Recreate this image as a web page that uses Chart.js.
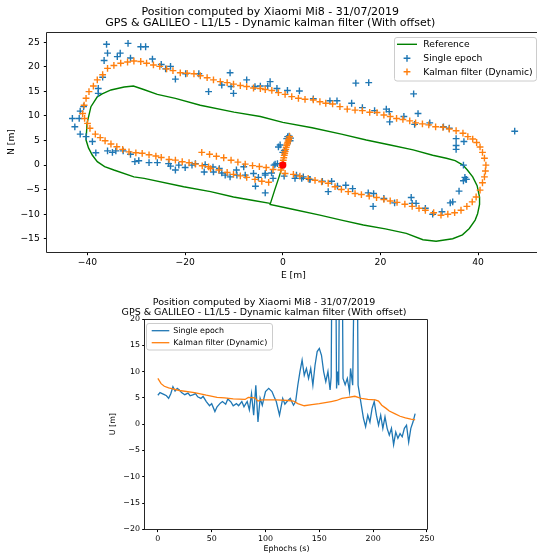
<!DOCTYPE html>
<html><head><meta charset="utf-8">
<script src="https://cdn.jsdelivr.net/npm/chart.js@4"></script>
<style>
html,body{margin:0;padding:0;background:#fff;overflow:hidden;width:537px;height:554px;}
#c1{position:absolute;left:0;top:0;}
#c2{position:absolute;left:0;top:285px;}
</style></head><body>
<canvas id="c1" width="545" height="285"></canvas>
<canvas id="c2" width="537" height="269"></canvas>
<script>
// ---------- text ----------
const titleLines = ['Position computed by Xiaomi Mi8 - 31/07/2019', 'GPS & GALILEO - L1/L5 - Dynamic kalman filter (With offset)'];
const seriesNames = ['Reference', 'Single epoch', 'Kalman filter (Dynamic)'];

// ---------- top chart (E/N) ----------
const refE = [0, -0.8, -1.7, -2.6, 2, 7.6, 12, 16.5, 21, 25.3, 28.7, 31.4, 34.8, 36.8, 38.2, 39.4, 39.9, 40.3, 40.3, 39.8, 38.9, 37.8, 36.9, 35.3, 33.5, 30.7, 26.7, 22, 17.1, 12, 6, 0, -4.6, -10, -16.9, -22, -25.7, -28.5, -30.6, -32.5, -35.2, -37, -38, -39.3, -40.1, -40.3, -39.8, -39.0, -38, -36.5, -34.6, -30.5, -28.4, -20.3, -14.8, -10.1, -6, -2.6];
const refN = [0, -2.5, -5.2, -8.0, -9.0, -10.2, -11.2, -12.2, -13.0, -13.9, -15.2, -15.5, -15.0, -14.2, -12.9, -11.2, -9.9, -8, -6.5, -4.2, -2.4, -1.0, 0, 0.9, 1.4, 2.0, 3.1, 4.1, 5.1, 6.3, 7.6, 8.7, 9.9, 10.8, 12.2, 13.6, 14.4, 15.4, 16.1, 15.9, 15.3, 14.5, 13.9, 11.9, 8.5, 5.1, 3.5, 2.0, 0.7, -0.3, -1.0, -2.4, -2.7, -4.4, -5.4, -6.5, -7.2, -7.8];

const singleE = [-43.1, -41.7, -42.6, -41.5, -40.3, -39.0, -41.5, -40.8, -37.8, -37.8, -36.9, -36.6, -36.1, -35.9, -33.9, -33.3, -31.7, -31.2, -29.1, -28.1, -26.7, -24.9, -24.0, -23.0, -22.0, -19.9, -17.2, -15.2, -12.5, -10.8, -10.6, -10.1, -7.4, -5.7, -4.6,
  -3.1, -2.6, -1.2, 0.95, 3.4, 6.25, 9.65, 11.1, 14.1, 14.96, 17.6, 16.3, 18.8, 21.2, 21.8, 21.9, 24.8, 26.8, 27.7, 27.0, 30.1, 32.9, 34.1, 35.5, 37.1, 35.5, 35.5, 37.0, 37.3, 37.6, 37.0, 36.1, 47.5,
  0.27, 2.5, 3.87, 5.6, 8.1, 10.0, 9.3, 11.2, 12.9, 14.3, 17.5, 18.6, 18.5, 20.7, 22.9, 26.3, 26.5, 27.3, 29.2, 30.7, 32.6, 34.3, 34.8, 37.5, -1.57, -3.6, -3.6,
  -38.3, -35.9, -34.9, -34.2, -32.7, -31.2, -30.3, -29.5, -27.4, -25.7, -23.4, -23.0, -22.0, -21.3, -20.0, -18.6, -17.9, -15.9, -16.1, -14.3, -14.2, -13.0, -12.5, -11.8, -10.8, -9.5, -9.4, -8.0, -7.7, -6.0, -5.6, -5.0, -3.6, -2.3, -1.8, -2.0, -1.1,
  -0.9, -0.55, 0.8, 1.3, 1.5, 0.3, 1.0, 1.6, 0.0, 2.8, 4.2, 5.4];
const singleN = [9.5, 9.5, 7.8, 6.3, 5.8, 4.8, 11.0, 11.9, 15.6, 14.6, 17.9, 21.3, 24.6, 22.8, 22.1, 22.8, 24.8, 21.8, 24.1, 24.1, 21.6, 20.5, 19.6, 20.1, 17.5, 18.6, 18.6, 14.96, 16.3, 18.8, 16.0, 14.6, 17.35, 16.0, 16.1,
  16.1, 17.0, 15.6, 15.2, 15.1, 13.5, 13.1, 13.1, 12.6, 16.7, 16.8, 11.7, 11.1, 11.4, 10.9, 8.8, 9.9, 14.5, 10.5, 8.3, 8.6, 7.8, 7.5, 5.4, 4.8, 4.0, 3.2, 0, -2.5, -2.9, -3.2, -5.3, 6.9,
  -2.25, -2.7, -2.7, -2.9, -3.3, -3.3, -5.4, -4.3, -4.1, -4.8, -5.65, -5.8, -8.4, -6.8, -7.7, -6.6, -7.8, -7.8, -8.8, -10.0, -9.5, -7.7, -7.5, -2.9, 0.2, -1.7, -5.65,
  2.5, 2.9, 2.6, 2.9, 2.9, 2.2, 0.7, 0.9, 0.5, 0.5, 0.3, -0.2, -1.0, 0, -0.5, 0, 0.3, 0.1, -1.4, -0.4, -1.4, -0.7, -1.6, -2.04, -2.4, -1.0, -2.04, -0.35, -2.04, -1.7, -4.3, -2.5, -2.04, -1.6, 0, -2.7, 0.3,
  3.7, 4.1, 5.4, 5.9, 4.96, 3.0, 5.8, 5.5, 2.6, -2.04, -2.4, -2.9];

const kalmanE = [-0.4, -0.3, -0.2, 0, 0.1, 0.2, 0.3, 0.4, 0.5, 0.6, 0.7, 0.8, 0.9, 1.0, 1.1, 1.2, 1.3, 1.4,
  0.47, 2.17, 3.5, 5.2, 6.6, 7.95, 9.3, 10.7, 12.0, 13.4, 14.8, 16.1, 17.7, 19.2, 20.7, 22.0, 23.4, 25.0, 26.5, 27.9, 29.2, 30.9, 32.4, 33.8, 35.2, 36.5, 37.7, 38.8, 39.6, 40.4, 40.9, 41.3, 41.5, 41.6, 41.3, 40.9, 40.4, 39.7, 38.9, 37.9, 36.9, 35.5, 34.1, 32.8, 31.3, 29.9, 28.6, 27.2, 26.0, 24.6, 23.3, 22.0, 20.7, 19.3, 17.8, 16.3, 14.8, 13.2, 11.7, 10.2, 8.8, 7.6, 6.25, 4.55, 3.2, 1.83, 0.47, -0.9, -2.25, -3.6, -4.6, -6.0, -7.4, -8.7, -10.1, -11.4, -12.8, -14.2, -15.5, -16.9, -18.2, -19.6, -21.0, -22.5, -23.8, -25.2, -26.5, -27.9, -29.1, -30.5, -31.8, -33.2, -34.6, -35.9, -36.9, -38.0, -38.8, -39.7, -40.3, -40.7, -41.0, -40.6, -40.0, -39.5, -38.4, -37.4, -36.4, -35.2, -34.0, -32.8, -31.5, -30.1, -28.8, -27.4, -26.0, -24.9, -23.3, -22.0, -20.6, -19.2, -17.9, -16.5, -15.2, -14.8, -13.1, -11.4, -10.1, -8.7, -7.4, -5.7, -4.3, -2.9,
  -16.6, -15.0, -13.6, -12.1, -10.6, -9.2, -7.7, -6.2, -4.8, -3.4, -2.0];
const kalmanN = [-1.0, -0.5, 0, 0.5, 1.0, 1.5, 2.0, 2.4, 2.8, 3.2, 3.6, 4.0, 4.3, 4.6, 4.9, 5.2, 5.5, 5.8,
  -1.7, -1.9, -2.25, -2.7, -3.1, -3.4, -3.7, -4.4, -4.96, -5.4, -5.8, -6.0, -6.3, -6.6, -7.0, -7.3, -7.6, -7.96, -8.4, -8.8, -9.2, -9.7, -10.2, -10.0, -9.7, -9.2, -8.4, -7.5, -6.5, -5.1, -3.6, -2.4, -1.2, 0, 1.4, 2.6, 3.7, 4.6, 5.3, 5.8, 6.5, 7.0, 7.35, 7.7, 7.8, 8.2, 8.4, 8.6, 9.0, 9.3, 9.5, 9.9, 10.2, 10.7, 10.75, 11.1, 11.2, 11.4, 11.9, 12.45, 12.6, 12.9, 13.27, 13.4, 13.6, 13.94, 14.4, 14.76, 15.2, 15.4, 15.6, 15.7, 16.0, 16.2, 16.5, 16.8, 17.0, 17.35, 17.8, 18.2, 18.6, 18.7, 18.8, 19.25, 19.6, 20.1, 20.4, 20.75, 21.1, 21.2, 21.0, 20.75, 20.3, 19.7, 18.4, 17.35, 16.1, 14.96, 13.6, 12.2, 10.5, 9.5, 8.5, 7.5, 6.3, 5.6, 4.96, 4.3, 3.74, 3.2, 2.7, 2.5, 2.4, 2.1, 1.84, 1.56, 1.15, 1.02, 0.68, 0.48, 0.2, -0.14, -0.35, -0.7, -1.0, -1.5, -1.9, -2.2, -2.5, -2.9, -3.3, -3.5,
  2.6, 2.2, 1.8, 1.5, 1.0, 0.6, 0.2, -0.1, -0.3, -0.5, -0.9];

const originE = [0];
const originN = [0];
const xTicksEN = [-40, -20, 0, 20, 40];
const yTicksEN = [-15, -10, -5, 0, 5, 10, 15, 20, 25];

// ---------- bottom chart (U) ----------
const epochsSingle = [0, 2, 4, 6, 8, 10, 12, 14, 16, 18, 20, 22, 25, 28, 30, 33, 35, 37, 40, 42, 45, 48, 50, 53, 55, 58, 60, 63, 65, 68, 70, 73, 75, 78, 80, 82, 83, 85, 87, 89, 91, 93, 95, 97, 100, 103, 106, 108, 110, 113, 116, 118, 120, 123, 126, 128, 130, 132, 134, 136, 138, 140, 142, 144, 146, 148, 150, 152, 154, 156, 158, 160, 161, 162, 165, 166, 167, 168, 169, 171, 172, 174, 176, 178, 179, 181, 183, 185, 186, 187, 189, 191, 193, 195, 197, 199, 201, 203, 205, 207, 209, 211, 213, 215, 217, 219, 221, 223, 225, 227, 229, 231, 233, 235, 237, 239];
const uSingle = [5.5, 6.0, 5.8, 5.6, 5.4, 4.9, 5.8, 7.1, 6.3, 6.8, 6.5, 6.0, 5.6, 5.9, 5.4, 5.6, 5.8, 5.2, 4.9, 5.3, 4.3, 3.5, 3.9, 2.4, 3.3, 4.0, 4.3, 3.8, 4.8, 4.2, 3.5, 3.9, 3.5, 4.3, 3.3, 4.0, 4.3, 2.7, 5.8, 1.7, 7.4, 0.4, 4.9, 3.6, 6.2, 6.8, 6.2, 5.2, 4.3, 1.7, 4.9, 3.8, 4.3, 4.9, 3.6, 4.3, 7.4, 10.0, 12.2, 9.3, 10.6, 8.7, 10.6, 7.4, 11.2, 13.8, 14.4, 13.1, 10.0, 8.1, 10.0, 6.5, 9.0, 40, 40, 6.8, 10.0, 7.4, 40, 40, 8.7, 7.5, 8.7, 6.2, 10.6, 7.4, 40, 40, 7.4, 6.2, 3.6, 1.1, -0.5, 1.7, 0.4, 3.0, 4.3, 1.7, -0.2, 1.7, -0.8, 1.4, -0.8, -2.1, -0.8, -3.9, -1.5, -2.7, -1.8, -2.4, -0.8, -0.2, -3.4, -0.8, 0.4, 2.0];
const epochsKalman = [0, 3, 6, 10, 12, 20, 34, 45, 55, 62, 70, 81, 84, 90, 93, 96, 110, 121, 126, 130, 136, 143, 150, 161, 166, 171, 177, 183, 186, 189, 195, 202, 205, 208, 212, 215, 220, 225, 230, 235, 239];
const uKalman = [8.7, 7.7, 7.2, 6.9, 6.8, 6.4, 6.0, 5.5, 5.1, 5.0, 4.8, 4.7, 5.1, 5.0, 4.4, 4.6, 4.6, 4.5, 4.4, 3.9, 3.5, 3.7, 3.9, 4.3, 4.5, 4.9, 5.1, 5.3, 5.1, 4.9, 4.7, 4.6, 4.4, 3.6, 3.0, 2.5, 2.0, 1.5, 1.2, 0.95, 0.8];
const xTicksU = [0, 50, 100, 150, 200, 250];
const yTicksU = [-20, -15, -10, -5, 0, 5, 10, 15, 20];

// ---------- helpers ----------
const pts = (xs, ys) => xs.map((x, i) => ({x: x, y: ys[i]}));
const fmt = v => v < 0 ? '\u2212' + Math.abs(v) : String(v);
const FONT = 'DejaVu Sans';
const C_BLUE = '#1f77b4', C_ORANGE = '#ff7f0e', C_GREEN = '#008000', C_RED = '#ff0000';

const framePlugin = {
  id: 'frame',
  afterDatasetsDraw(chart) {
    const {ctx, chartArea: a} = chart;
    ctx.save();
    ctx.strokeStyle = '#262626';
    ctx.lineWidth = 1;
    const l = Math.round(a.left) - 0.5, t = Math.round(a.top) + 0.5;
    const r = Math.round(a.right) - 0.5, b = Math.round(a.bottom) + 0.5;
    ctx.beginPath();
    ctx.moveTo(l, t); ctx.lineTo(r, t); ctx.lineTo(r, b); ctx.lineTo(l, b); ctx.closePath();
    ctx.stroke();
    ctx.restore();
  }
};

const boxLegendPlugin = {
  id: 'boxLegend',
  afterDraw(chart, args, o) {
    if (!o || !o.items) return;
    const ctx = chart.ctx;
    ctx.save();
    const r = 2.5;
    ctx.beginPath();
    ctx.moveTo(o.x + r, o.y);
    ctx.arcTo(o.x + o.w, o.y, o.x + o.w, o.y + o.h, r);
    ctx.arcTo(o.x + o.w, o.y + o.h, o.x, o.y + o.h, r);
    ctx.arcTo(o.x, o.y + o.h, o.x, o.y, r);
    ctx.arcTo(o.x, o.y, o.x + o.w, o.y, r);
    ctx.closePath();
    ctx.fillStyle = 'rgba(255,255,255,0.8)';
    ctx.fill();
    ctx.strokeStyle = '#cccccc';
    ctx.lineWidth = 1;
    ctx.stroke();
    ctx.font = o.fontSize + 'px "' + FONT + '"';
    ctx.textBaseline = 'middle';
    ctx.textAlign = 'left';
    o.items.forEach((di, k) => {
      const ds = chart.data.datasets[di];
      const y = o.rows[k];
      if (ds.showLine) {
        ctx.strokeStyle = ds.borderColor;
        ctx.lineWidth = o.lineWidth;
        ctx.beginPath();
        ctx.moveTo(o.s0, y); ctx.lineTo(o.s1, y);
        ctx.stroke();
      } else {
        const cx = (o.s0 + o.s1) / 2, h = ds.pointRadius;
        ctx.strokeStyle = ds.borderColor;
        ctx.lineWidth = ds.borderWidth;
        ctx.beginPath();
        ctx.moveTo(cx - h, y); ctx.lineTo(cx + h, y);
        ctx.moveTo(cx, y - h); ctx.lineTo(cx, y + h);
        ctx.stroke();
      }
      ctx.fillStyle = '#000';
      ctx.fillText(ds.label, o.tx, y + 0.5);
    });
    ctx.restore();
  }
};

Chart.register(framePlugin, boxLegendPlugin);

function axis(ticksArr, min, max, fontSize, tickLen, pad, fitFn, title, titlePad) {
  return {
    type: 'linear', min: min, max: max,
    afterBuildTicks: s => { s.ticks = ticksArr.map(v => ({value: v})); },
    afterFit: fitFn,
    grid: {display: true, drawOnChartArea: false, drawTicks: true, tickLength: tickLen, tickColor: '#000', tickWidth: 1},
    border: {display: false},
    ticks: {font: {family: FONT, size: fontSize}, color: '#000', padding: pad, autoSkip: false, maxRotation: 0, callback: v => fmt(v)},
    title: {display: true, text: title, font: {family: FONT, size: fontSize, lineHeight: 1.2}, color: '#000', padding: titlePad}
  };
}

// ---------- chart 1 ----------
new Chart(document.getElementById('c1'), {
  type: 'scatter',
  data: {
    datasets: [
      {label: 'origin', data: pts(originE, originN), pointStyle: 'circle', pointRadius: 3.6, backgroundColor: C_RED, borderColor: C_RED, borderWidth: 0},
      {label: seriesNames[2], data: pts(kalmanE, kalmanN), pointStyle: 'cross', pointRadius: 3.4, borderWidth: 1.4, borderColor: C_ORANGE, backgroundColor: C_ORANGE},
      {label: seriesNames[1], data: pts(singleE, singleN), pointStyle: 'cross', pointRadius: 3.4, borderWidth: 1.4, borderColor: C_BLUE, backgroundColor: C_BLUE},
      {label: seriesNames[0], data: pts(refE, refN), showLine: true, pointRadius: 0, borderColor: C_GREEN, backgroundColor: C_GREEN, borderWidth: 1.4, tension: 0}
    ]
  },
  options: {
    responsive: false, animation: false, devicePixelRatio: 1,
    layout: {padding: {left: 0, right: 4.4, top: 0, bottom: 0}},
    plugins: {
      legend: {display: false}, tooltip: {enabled: false},
      title: {display: true, text: titleLines, color: '#000', font: {family: FONT, size: 11, weight: 'normal', lineHeight: 1.02}, padding: {top: 6.5, bottom: 3.1}},
      boxLegend: {x: 394.5, y: 37.5, w: 142, h: 43.5, rows: [44.3, 58.3, 71.8], s0: 397, s1: 417, tx: 423.3, fontSize: 9.2, lineWidth: 1.4, items: [3, 2, 1]}
    },
    scales: {
      x: axis(xTicksEN, -48.3, 52.6, 9.2, 3.2, 1.5, s => { s.height = 33; }, 'E [m]', {top: 0, bottom: 3.5}),
      y: axis(yTicksEN, -17.7, 27.1, 9.2, 3.2, 4, s => { s.width = 47; }, 'N [m]', {top: 6.5, bottom: 0})
    }
  }
});

// ---------- chart 2 ----------
new Chart(document.getElementById('c2'), {
  type: 'scatter',
  data: {
    datasets: [
      {label: seriesNames[2], data: pts(epochsKalman, uKalman), showLine: true, pointRadius: 0, borderColor: C_ORANGE, backgroundColor: C_ORANGE, borderWidth: 1.3, tension: 0},
      {label: seriesNames[1], data: pts(epochsSingle, uSingle), showLine: true, pointRadius: 0, borderColor: C_BLUE, backgroundColor: C_BLUE, borderWidth: 1.3, tension: 0}
    ]
  },
  options: {
    responsive: false, animation: false, devicePixelRatio: 1,
    layout: {padding: {left: 100, right: 109, top: 0, bottom: 0}},
    plugins: {
      legend: {display: false}, tooltip: {enabled: false},
      title: {display: true, text: titleLines, color: '#000', font: {family: FONT, size: 9.5, weight: 'normal', lineHeight: 1.1}, padding: {top: 12.1, bottom: 1.0}},
      boxLegend: {x: 146.5, y: 38.5, w: 126, h: 26.5, rows: [45.7, 57.7], s0: 151.7, s1: 169.3, tx: 173.3, fontSize: 7.9, lineWidth: 1.3, items: [1, 0]}
    },
    scales: {
      x: axis(xTicksU, -11.95, 250.95, 7.9, 2.8, 2, s => { s.height = 24.7; }, 'Ephochs (s)', {top: 0, bottom: 0}),
      y: axis(yTicksU, -20, 20, 7.9, 2.8, 2.2, s => { s.width = 45; }, 'U [m]', {top: 8.6, bottom: 0})
    }
  }
});
</script>
</body></html>
